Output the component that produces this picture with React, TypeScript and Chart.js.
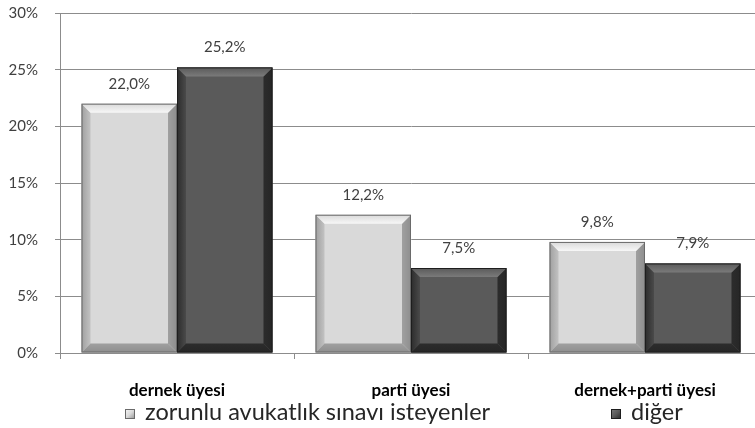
import React, { useEffect, useRef } from "react";
import { Chart, registerables } from "chart.js";

Chart.register(...registerables);

const categories = ["dernek üyesi", "parti üyesi", "dernek+parti üyesi"];
const seriesNames = ["zorunlu avukatlık sınavı isteyenler", "diğer"];
const zorunluValues = [22.0, 12.2, 9.8];
const digerValues = [25.2, 7.5, 7.9];
const yTicks = [0, 5, 10, 15, 20, 25, 30];

const FONT = "Lato, 'Liberation Sans', sans-serif";

type Bevel = { face: string; top: string; left: string; right: string; bottom: string; outline: string };
const bevels: Bevel[] = [
  { face: "#d9d9d9", top: "#f7f7f7", left: "#c2c2c2", right: "#a0a0a0", bottom: "#8e8e8e", outline: "#6a6a6a" },
  { face: "#5a5a5a", top: "#7a7a7a", left: "#4a4a4a", right: "#2c2c2c", bottom: "#262626", outline: "#1e1e1e" },
];

const bevelPlugin = {
  id: "bevelBars",
  afterDatasetsDraw(chart: any) {
    const ctx = chart.ctx;
    chart.data.datasets.forEach((ds: any, di: number) => {
      const meta = chart.getDatasetMeta(di);
      const bv = bevels[di];
      meta.data.forEach((bar: any, i: number) => {
        const p = bar.getProps(["x", "y", "base", "width"], true);
        const l = p.x - p.width / 2;
        const r = p.x + p.width / 2;
        const t = Math.min(p.y, p.base);
        const b = Math.max(p.y, p.base);
        const s = Math.min(9, (b - t) / 3);
        ctx.save();
        ctx.fillStyle = bv.face;
        ctx.fillRect(l, t, r - l, b - t);
        const poly = (pts: number[][], fill: any) => {
          ctx.beginPath();
          ctx.moveTo(pts[0][0], pts[0][1]);
          for (let k = 1; k < pts.length; k++) ctx.lineTo(pts[k][0], pts[k][1]);
          ctx.closePath();
          ctx.fillStyle = fill;
          ctx.fill();
        };
        const gl = ctx.createLinearGradient(l, 0, l + s, 0);
        gl.addColorStop(0, bv.right);
        gl.addColorStop(1, bv.left);
        poly([[l, t], [l + s, t + s], [l + s, b - s], [l, b]], gl);
        const gr = ctx.createLinearGradient(r - s, 0, r, 0);
        gr.addColorStop(0, bv.right);
        gr.addColorStop(1, bv.bottom);
        poly([[r, t], [r - s, t + s], [r - s, b - s], [r, b]], gr);
        const gt = ctx.createLinearGradient(0, t, 0, t + s);
        gt.addColorStop(0, bv.face);
        gt.addColorStop(1, bv.top);
        poly([[l, t], [r, t], [r - s, t + s], [l + s, t + s]], gt);
        const gb = ctx.createLinearGradient(0, b - s, 0, b);
        gb.addColorStop(0, bv.right);
        gb.addColorStop(1, bv.bottom);
        poly([[l, b], [r, b], [r - s, b - s], [l + s, b - s]], gb);
        ctx.strokeStyle = bv.outline;
        ctx.lineWidth = 1;
        ctx.strokeRect(l + 0.5, t + 0.5, r - l - 1, b - t - 1);
        ctx.restore();

        const v = ds.data[i] as number;
        ctx.save();
        ctx.font = `15px ${FONT}`;
        ctx.fillStyle = "#404040";
        ctx.textAlign = "center";
        ctx.textBaseline = "middle";
        ctx.fillText(v.toFixed(1).replace(".", ",") + "%", p.x, t - 20);
        ctx.restore();
      });
    });
  },
};

const legendPlugin = {
  id: "customLegend",
  afterDraw(chart: any) {
    const ctx = chart.ctx;
    const items = [
      { x: 125, color: bevels[0] },
      { x: 611, color: bevels[1] },
    ];
    const boxTop = 409;
    const baseline = 420;
    chart.data.datasets.forEach((ds: any, di: number) => {
      const it = items[di];
      ctx.save();
      const g = ctx.createLinearGradient(it.x, boxTop, it.x + 10, boxTop + 10);
      g.addColorStop(0, it.color.top);
      g.addColorStop(0.5, it.color.face);
      g.addColorStop(1, it.color.bottom);
      ctx.fillStyle = g;
      ctx.fillRect(it.x, boxTop, 10, 10);
      ctx.strokeStyle = it.color.outline;
      ctx.lineWidth = 1;
      ctx.strokeRect(it.x + 0.5, boxTop + 0.5, 9, 9);
      ctx.font = `23.5px ${FONT}`;
      ctx.fillStyle = "#262626";
      ctx.textAlign = "left";
      ctx.textBaseline = "alphabetic";
      ctx.fillText(ds.label, it.x + 20, baseline);
      ctx.restore();
    });
  },
};

export default function App() {
  const ref = useRef<HTMLCanvasElement | null>(null);
  useEffect(() => {
    document.body.style.margin = "0";
    document.body.style.background = "#ffffff";
    const canvas = ref.current!;
    const chart = new Chart(canvas, {
      type: "bar",
      data: {
        labels: categories,
        datasets: [
          {
            label: seriesNames[0],
            data: zorunluValues,
            backgroundColor: "rgba(0,0,0,0)",
            borderWidth: 0,
            barPercentage: 1,
            categoryPercentage: 0.816,
          },
          {
            label: seriesNames[1],
            data: digerValues,
            backgroundColor: "rgba(0,0,0,0)",
            borderWidth: 0,
            barPercentage: 1,
            categoryPercentage: 0.816,
          },
        ],
      },
      options: {
        responsive: false,
        animation: false,
        devicePixelRatio: 1,
        layout: { padding: { top: 13, left: 0, right: 0, bottom: 27 } },
        plugins: {
          legend: { display: false },
          tooltip: { enabled: false },
        },
        scales: {
          x: {
            grid: {
              offset: true,
              drawOnChartArea: false,
              drawTicks: true,
              tickLength: 6,
              color: "#8c8c8c",
            },
            border: { color: "#8c8c8c" },
            ticks: {
              padding: 21,
              color: "#000000",
              font: { family: FONT, size: 17, weight: "bold" },
            },
            afterFit: (scale: any) => {
              scale.height = 48;
            },
          },
          y: {
            min: 0,
            max: 30,
            afterBuildTicks: (scale: any) => {
              scale.ticks = yTicks.map((v) => ({ value: v }));
            },
            grid: {
              color: "#8c8c8c",
              tickLength: 5,
              drawTicks: true,
            },
            border: { color: "#8c8c8c" },
            ticks: {
              padding: 17,
              color: "#404040",
              font: { family: FONT, size: 15 },
              callback: (v: any) => `${v}%`,
            },
            afterFit: (scale: any) => {
              scale.width = 60;
              scale.paddingTop = 0;
              scale.paddingBottom = 0;
            },
          },
        },
      },
      plugins: [bevelPlugin, legendPlugin],
    });
    return () => chart.destroy();
  }, []);
  return (
    <div style={{ width: 755, height: 428, background: "#fff", overflow: "hidden" }}>
      <canvas ref={ref} width={762} height={428} style={{ display: "block" }} />
    </div>
  );
}
